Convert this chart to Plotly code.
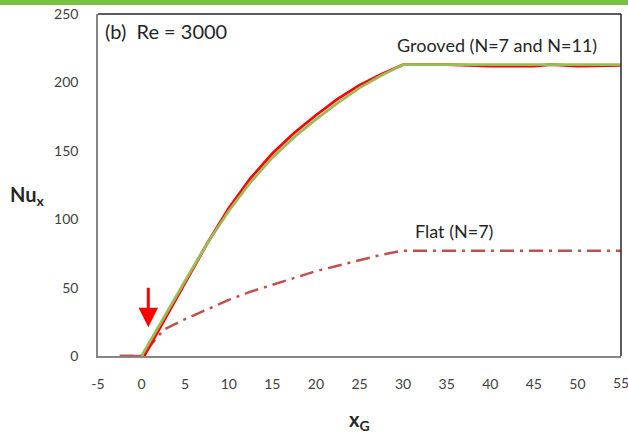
import plotly.graph_objects as go

# Grooved N=11 (green) and N=7 (red)
x_green = [0, 2.5, 5, 7.5, 10, 12.5, 15, 17.5, 20, 22.5, 25, 27.5, 30, 55]
y_green = [0, 28, 55, 82, 106, 127, 145, 160, 173, 185, 196, 205, 213, 213]

x_red = [0.3, 2.5, 5, 7.5, 10, 12.5, 15, 17.5, 20, 22.5, 25, 27.5, 30, 35, 40, 45, 47, 50, 55]
y_red = [0, 25, 54, 82, 108, 130, 148, 163, 176, 188, 198, 206, 213, 213, 212, 212, 213, 212, 212.5]

# Flat N=7
x_flat = [-2.5, 0, 2.5, 5, 7.5, 10, 12.5, 15, 17.5, 20, 22.5, 25, 27.5, 30, 55]
y_flat = [0, 0, 19, 27, 34, 41, 47, 52, 57, 62, 66, 70, 74, 77, 77]

x_ticks = [-5, 0, 5, 10, 15, 20, 25, 30, 35, 40, 45, 50]
x_tick_text = ["-5", "0", "5", "10", "15", "20", "25", "30", "35", "40", "45", "50"]
x_last_tick = 55
y_ticks = [0, 50, 100, 150, 200, 250]

W, H = 628, 435
L, R, T, B = 98, 7, 14, 79
pw, ph = W - L - R, H - T - B

fig = go.Figure()
fig.add_trace(go.Scatter(x=[-2.5, 0], y=[0, 0], mode="lines",
                         line=dict(color="#c0504d", width=2.5), hoverinfo="skip"))
fig.add_trace(go.Scatter(x=x_flat, y=y_flat, mode="lines",
                         line=dict(color="#c0504d", width=2.5, dash="14px,6px,3px,6px")))
fig.add_trace(go.Scatter(x=x_red, y=y_red, mode="lines",
                         line=dict(color="#ff0000", width=2.8)))
fig.add_trace(go.Scatter(x=x_green, y=y_green, mode="lines",
                         line=dict(color="#9bbb59", width=2.8)))

font_fam = "Lato, Open Sans, Arial"
tick_font = dict(size=14, color="#404040", family=font_fam)

fig.update_layout(
    width=W, height=H,
    margin=dict(l=L, r=R, t=T, b=B, autoexpand=False),
    paper_bgcolor="white", plot_bgcolor="white",
    showlegend=False,
    font=dict(family=font_fam, color="#404040"),
    xaxis=dict(range=[-5, 55], tickvals=x_ticks, ticktext=x_tick_text,
               showgrid=False, zeroline=False, automargin=False,
               showline=True, linecolor="#868686", linewidth=1.5,
               ticks="", ticklabelstandoff=14, tickfont=tick_font),
    yaxis=dict(range=[0, 250], tickvals=y_ticks, showgrid=False, zeroline=False,
               automargin=False,
               showline=True, linecolor="#868686", linewidth=1.5,
               ticks="", ticklabelstandoff=15, tickfont=tick_font),
    shapes=[
        dict(type="line", xref="paper", yref="paper", x0=0, x1=1, y0=1, y1=1,
             line=dict(color="#262626", width=1.5)),
        dict(type="line", xref="paper", yref="paper", x0=1, x1=1, y0=0, y1=1,
             line=dict(color="#262626", width=1.5)),
        dict(type="rect", xref="paper", yref="paper",
             x0=-L / pw - 0.01, x1=1 + R / pw + 0.01,
             y0=1 + (T - 5) / ph, y1=1 + (T + 1) / ph,
             fillcolor="#7ac143", line=dict(width=0), layer="above"),
    ],
    annotations=[
        dict(text=str(x_last_tick), x=x_last_tick, y=-16 / ph, xref="x", yref="paper",
             xanchor="center", yanchor="top", showarrow=False, font=tick_font),
        dict(text="<b>x<sub>G</sub></b>", x=0.5, y=-64 / ph, xref="paper", yref="paper",
             xanchor="center", yanchor="middle", showarrow=False,
             font=dict(size=20, color="#262626")),
        dict(text="<b>Nu<sub>x</sub></b>", x=-71 / pw, y=117, xref="paper", yref="y",
             xanchor="center", yanchor="middle", showarrow=False,
             font=dict(size=20, color="#262626")),
        dict(text="(b)  Re = 3000", x=0.01, y=0.99, xref="paper", yref="paper",
             xanchor="left", yanchor="top", showarrow=False,
             font=dict(size=20, color="#262626")),
        dict(text="Grooved (N=7 and N=11)", x=40.8, y=218, xref="x", yref="y",
             xanchor="center", yanchor="bottom", showarrow=False,
             font=dict(size=18, color="#262626")),
        dict(text="Flat (N=7)", x=35.8, y=82, xref="x", yref="y",
             xanchor="center", yanchor="bottom", showarrow=False,
             font=dict(size=18, color="#262626")),
        dict(x=0.77, y=21, ax=0.77, ay=51, xref="x", yref="y", axref="x", ayref="y",
             showarrow=True, arrowhead=2, arrowsize=1.3, arrowwidth=3,
             arrowcolor="#ff0000", text=""),
    ],
)

fig.write_html("out.html")
